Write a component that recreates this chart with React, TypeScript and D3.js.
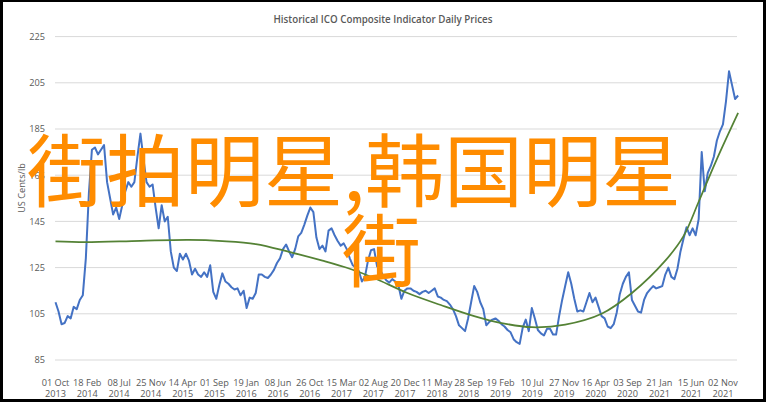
import React from "react";
import * as d3 from "d3";

// ---- data ----
const chartTitle = "Historical ICO Composite Indicator Daily Prices";
const yAxisTitle = "US Cents/lb";
const overlayLine1 = "街拍明星,韩国明星";
const overlayLine2 = "街";

// category axis: one label every 100 trading days
const xTickLabels = [
  "01 Oct 2013", "18 Feb 2014", "08 Jul 2014", "25 Nov 2014", "14 Apr 2015", "01 Sep 2015",
  "19 Jan 2016", "08 Jun 2016", "26 Oct 2016", "15 Mar 2017", "02 Aug 2017", "20 Dec 2017",
  "11 May 2018", "28 Sep 2018", "19 Feb 2019", "10 Jul 2019", "27 Nov 2019", "16 Apr 2020",
  "03 Sep 2020", "21 Jan 2021", "15 Jun 2021", "02 Nov 2021",
];
const TRADING_DAYS_PER_LABEL = 100;
const TOTAL_TRADING_DAYS = 2146;
const SAMPLE_STEP = 9.545; // trading days between the samples below

const yTicks = [85, 105, 125, 145, 165, 185, 205, 225];

// daily price, sampled
const priceSamples = [
  110, 106, 100.5, 101, 104, 103, 108, 107, 111, 113,
  129, 157, 176, 177, 174, 176, 178, 162, 155, 148,
  151, 146, 152, 158, 162, 160, 162, 173, 183, 172,
  162, 160, 161, 151, 142, 152, 145, 147, 132, 125,
  123.5, 131, 128.5, 131, 128, 122, 124.5, 122, 121, 123,
  121, 126, 114.5, 111.5, 117.5, 122.5, 119, 118, 116.5, 115.5,
  116, 113, 115, 107.5, 112, 111.5, 114, 122, 122, 121,
  120.5, 122, 124, 127, 129, 133, 135, 132, 129.5, 133,
  138.5, 140, 143.5, 147.5, 151, 149, 138, 133, 134.5, 132,
  141, 142, 139, 136.5, 134.5, 135.5, 133, 129, 126, 125,
  123.5, 119, 121, 128, 132.5, 133, 125.5, 124, 121.5, 119.5,
  118.5, 120, 119, 117.5, 111.5, 115, 116, 116, 115, 114.5,
  113.5, 114.5, 115, 114, 115, 116, 112.5, 112, 111, 110.5,
  109, 107, 104, 100, 98.8, 97.5, 103, 110, 117, 114.5,
  110, 107, 100, 101.5, 102.5, 103, 102, 100.5, 99.5, 98,
  97, 94, 92.7, 92, 99, 102.5, 97.5, 107.5, 103, 98,
  96.5, 95.6, 98.5, 98.5, 96, 96, 104, 111, 117, 123,
  118, 111.5, 106, 106.5, 106, 110, 114, 110, 112, 108,
  104, 103, 99.5, 98.8, 100.5, 105.6, 113.5, 118, 121, 123,
  111, 108.5, 106, 105.5, 111, 114, 115.6, 117, 116, 116.5,
  117, 122, 125, 121, 120, 124.5, 132, 137.5, 142.5, 139,
  142, 139, 146, 175, 158, 166, 169, 173, 180, 184,
  187, 197, 210, 204, 198, 199.5,
];

// polynomial trendline, read at some sample positions
const trendSampleIdx = [0, 10, 28, 44, 55, 66, 77, 88, 97, 105, 116, 127, 138, 147, 157, 168, 180, 190, 201, 207, 212, 218, 225];
const trendValues = [136.3, 136.0, 136.6, 137, 136.5, 135.2, 131.8, 128, 124.5, 120.5, 114, 108.8, 104, 101, 99.2, 100.3, 105, 114, 128, 138.6, 153.5, 172, 192];

// ---- layout ----
const W = 766;
const H = 402;
const plotLeft = 55.5;
const plotRight = 737.6;
const plotTop = 36.6;
const plotBottom = 360;

export default function App() {
  const x = d3.scaleLinear().domain([0, TOTAL_TRADING_DAYS]).range([plotLeft, plotRight]);
  const y = d3.scaleLinear().domain([85, 225]).range([plotBottom, plotTop]);

  const priceLine = d3
    .line<number>()
    .x((_, i) => x(i * SAMPLE_STEP))
    .y((d) => y(d))
    .curve(d3.curveLinear);

  const trendPts = trendSampleIdx.map((s, i) => [s, trendValues[i]] as [number, number]);
  const trendLine = d3
    .line<[number, number]>()
    .x((d) => x(d[0] * SAMPLE_STEP))
    .y((d) => y(d[1]))
    .curve(d3.curveCatmullRom.alpha(0.5));

  const labelFont = "'Open Sans', 'Liberation Sans', sans-serif";

  return (
    <svg width={W} height={H} style={{ position: "absolute", left: 0, top: 0, display: "block" }}>
      <rect x={0} y={0} width={W} height={H} fill="#000" />
      <rect x={3} y={2} width={760} height={397} fill="#fff" />

      <text
        x={383}
        y={22.5}
        textAnchor="middle"
        fontFamily={labelFont}
        fontWeight={600}
        fontSize={11.5}
        fill="#595959"
        textLength={219}
        lengthAdjust="spacingAndGlyphs"
      >
        {chartTitle}
      </text>

      {/* gridlines */}
      {yTicks.map((t) => (
        <line key={t} x1={55} x2={737} y1={y(t)} y2={y(t)} stroke="#d9d9d9" strokeWidth={1} />
      ))}

      {/* y tick labels */}
      {yTicks.map((t) => (
        <text key={"yl" + t} x={45} y={y(t) + 3.3} textAnchor="end" fontFamily={labelFont} fontSize={9.2} fill="#595959">
          {t}
        </text>
      ))}

      <text
        transform={`translate(24.5, 188) rotate(-90)`}
        textAnchor="middle"
        fontFamily={labelFont}
        fontSize={9.2}
        fill="#595959"
      >
        {yAxisTitle}
      </text>

      {/* x tick labels */}
      {xTickLabels.map((lab, k) => {
        const cx = x(k * TRADING_DAYS_PER_LABEL);
        const parts = lab.split(" ");
        return (
          <g key={lab}>
            <text x={cx} y={385.5} textAnchor="middle" fontFamily={labelFont} fontSize={9.2} fill="#595959">
              {parts[0] + " " + parts[1]}
            </text>
            <text x={cx} y={396.5} textAnchor="middle" fontFamily={labelFont} fontSize={9.2} fill="#595959">
              {parts[2]}
            </text>
          </g>
        );
      })}

      {/* series */}
      <path d={priceLine(priceSamples) || ""} fill="none" stroke="#4472C4" strokeWidth={2} strokeLinejoin="round" />
      <path d={trendLine(trendPts) || ""} fill="none" stroke="#548235" strokeWidth={1.75} />

      {/* overlay text */}
      <text x={27} y={201} fontFamily="'Noto Sans CJK SC', sans-serif" fontSize={79} fill="#FF8C00">
        {overlayLine1}
      </text>
      <text x={342} y={281} fontFamily="'Noto Sans CJK SC', sans-serif" fontSize={79} fill="#FF8C00">
        {overlayLine2}
      </text>
    </svg>
  );
}
